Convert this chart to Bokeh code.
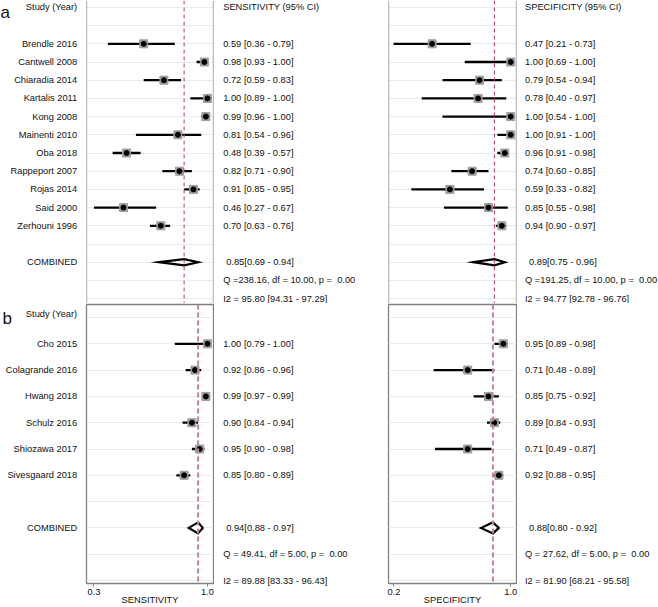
from bokeh.plotting import figure
from bokeh.models import Range1d, Span, FixedTicker, PrintfTickFormatter, ColumnDataSource, Grid, LinearAxis
from bokeh.layouts import row, column
from bokeh.core.properties import value
from bokeh.embed import file_html
from bokeh.resources import INLINE

FONT = "Liberation Sans"

# ---------------- data: panel a ----------------
studies_a = ["Brendle 2016", "Cantwell 2008", "Chiaradia 2014", "Kartalis 2011", "Kong 2008",
             "Mainenti 2010", "Oba 2018", "Rappeport 2007", "Rojas 2014", "Said 2000", "Zerhouni 1996"]
sens_a = [0.59, 0.98, 0.72, 1.00, 0.99, 0.81, 0.48, 0.82, 0.91, 0.46, 0.70]
sens_lo_a = [0.36, 0.93, 0.59, 0.89, 0.96, 0.54, 0.39, 0.71, 0.85, 0.27, 0.63]
sens_hi_a = [0.79, 1.00, 0.83, 1.00, 1.00, 0.96, 0.57, 0.90, 0.95, 0.67, 0.76]
spec_a = [0.47, 1.00, 0.79, 0.78, 1.00, 1.00, 0.96, 0.74, 0.59, 0.85, 0.94]
spec_lo_a = [0.21, 0.69, 0.54, 0.40, 0.54, 0.91, 0.91, 0.60, 0.33, 0.55, 0.90]
spec_hi_a = [0.73, 1.00, 0.94, 0.97, 1.00, 1.00, 0.98, 0.85, 0.82, 0.98, 0.97]
pooled_sens_a = [0.85, 0.69, 0.94]
pooled_spec_a = [0.89, 0.75, 0.96]
het_sens_a = [238.16, 10.00, 0.00, 95.80, 94.31, 97.29]   # Q, df, p, I2, I2 lo, I2 hi
het_spec_a = [191.25, 10.00, 0.00, 94.77, 92.78, 96.76]

# ---------------- data: panel b ----------------
studies_b = ["Cho 2015", "Colagrande 2016", "Hwang 2018", "Schulz 2016", "Shiozawa 2017", "Sivesgaard 2018"]
sens_b = [1.00, 0.92, 0.99, 0.90, 0.95, 0.85]
sens_lo_b = [0.79, 0.86, 0.97, 0.84, 0.90, 0.80]
sens_hi_b = [1.00, 0.96, 0.99, 0.94, 0.98, 0.89]
spec_b = [0.95, 0.71, 0.85, 0.89, 0.71, 0.92]
spec_lo_b = [0.89, 0.48, 0.75, 0.84, 0.49, 0.88]
spec_hi_b = [0.98, 0.89, 0.92, 0.93, 0.87, 0.95]
pooled_sens_b = [0.94, 0.88, 0.97]
pooled_spec_b = [0.88, 0.80, 0.92]
het_sens_b = [49.41, 5.00, 0.00, 89.88, 83.33, 96.43]
het_spec_b = [27.62, 5.00, 0.00, 81.90, 68.21, 95.58]

# ---------------- layout constants (pixels) ----------------
W0, W1, W2, W3, W4 = 85, 129, 173, 130, 141
HA, HB = 303, 304
ROW0_A, STEP_A = 43.3, 18.2
ROW0_B, STEP_B = 40.3, 26.3
FB_TOP, FB_BOT = 1, 280          # panel b plot frame (inside its figure)
SENS_RANGE = (0.222, 1.039)
SPEC_RANGE = (0.176, 1.039)
FS = "9.3px"
BOX = "#7f7f7f"
GRID = "#e6ecec"


def yrange(top, bottom, row0, step):
    return Range1d(start=(bottom - row0) / step, end=(top - row0) / step)


def text_fig(width, height, row0, step):
    p = figure(width=width, height=height, x_range=Range1d(0, width),
               y_range=yrange(0, height, row0, step), output_backend="svg",
               toolbar_location=None, x_axis_type=None, y_axis_type=None, min_border=0)
    p.frame_align = False
    p.outline_line_color = None
    return p


def add_text(p, x, y, txt, align="left", size=FS, baseline="middle"):
    src = ColumnDataSource(dict(x=x, y=y, t=txt))
    p.text(x="x", y="y", text="t", source=src, text_font=value(FONT), text_font_size=value(size),
           text_align=align, text_baseline=baseline, text_color="#111111")


def plot_fig(width, height, xr, top, bottom, row0, step, grid_ticks):
    p = figure(width=width, height=height, x_range=Range1d(*xr), y_range=yrange(top, bottom, row0, step),
               output_backend="svg", toolbar_location=None, x_axis_type=None, y_axis_type=None,
               min_border=0, min_border_left=1, min_border_right=1,
               min_border_top=top, min_border_bottom=height - bottom)
    p.frame_align = False
    p.outline_line_color = None
    p.add_layout(Grid(dimension=1, ticker=FixedTicker(ticks=grid_ticks), grid_line_color=GRID, grid_line_width=1))
    return p


def forest(p, est, lo, hi, pooled, dh, dcolor, dwidth, ddash):
    n = len(est)
    src = ColumnDataSource(dict(y=list(range(n)), est=est, lo=lo, hi=hi))
    p.segment(x0="lo", y0="y", x1="hi", y1="y", source=src, line_color="black", line_width=2.3)
    p.scatter(x="est", y="y", source=src, marker="square", size=8, fill_color="#9c9c9c", line_color="#9c9c9c")
    p.scatter(x="est", y="y", source=src, marker="circle", size=5, fill_color="black", line_color="black")
    yc = n + 1
    p.patch([pooled[1], pooled[0], pooled[2], pooled[0]], [yc, yc - dh, yc, yc + dh],
            fill_color="white", line_color="black", line_width=2.2, line_join="miter")
    p.add_layout(Span(location=pooled[0], dimension="height", line_color=dcolor,
                      line_width=dwidth, line_dash=ddash))


def ci_text(est, lo, hi):
    return [f"{e:.2f} [{l:.2f} - {h:.2f}]" for e, l, h in zip(est, lo, hi)]


def pooled_text(pl):
    return [f"{pl[0]:.2f}[{pl[1]:.2f} - {pl[2]:.2f}]"]


def het_text(h):
    return [f"Q ={h[0]:6.2f}, df = {h[1]:.2f}, p =\u00a0{h[2]:5.2f}",
            f"I2 = {h[3]:.2f} [{h[4]:.2f} - {h[5]:.2f}]"]


# ================= panel a =================
na = len(studies_a)
a0 = text_fig(W0, HA, ROW0_A, STEP_A)
add_text(a0, [0], [-1.74], ["a"], size="17px", baseline="alphabetic")
add_text(a0, [76.7] * (na + 2), [-2] + list(range(na)) + [na + 1],
         ["Study (Year)"] + studies_a + ["COMBINED"], align="right")

a1 = plot_fig(W1, HA, SENS_RANGE, 0, HA, ROW0_A, STEP_A, list(range(-2, na + 4)))
forest(a1, sens_a, sens_lo_a, sens_hi_a, pooled_sens_a, 0.17, "#c23b5f", 1, "4 3")
for loc in SENS_RANGE:
    a1.add_layout(Span(location=loc, dimension="height", line_color=BOX, line_width=1.3))

a2 = text_fig(W2, HA, ROW0_A, STEP_A)
add_text(a2, [8.7] * (na + 3), [-2] + list(range(na)) + [na + 2, na + 3],
         ["SENSITIVITY (95% CI)"] + ci_text(sens_a, sens_lo_a, sens_hi_a) + het_text(het_sens_a))
add_text(a2, [11.7], [na + 1], pooled_text(pooled_sens_a))

a3 = plot_fig(W3, HA, SPEC_RANGE, 0, HA, ROW0_A, STEP_A, list(range(-2, na + 4)))
forest(a3, spec_a, spec_lo_a, spec_hi_a, pooled_spec_a, 0.17, "#c23b5f", 1, "4 3")
for loc in SPEC_RANGE:
    a3.add_layout(Span(location=loc, dimension="height", line_color=BOX, line_width=1.3))

a4 = text_fig(W4, HA, ROW0_A, STEP_A)
add_text(a4, [7.5] * (na + 3), [-2] + list(range(na)) + [na + 2, na + 3],
         ["SPECIFICITY (95% CI)"] + ci_text(spec_a, spec_lo_a, spec_hi_a) + het_text(het_spec_a))
add_text(a4, [11.5], [na + 1], pooled_text(pooled_spec_a))

# ================= panel b =================
nb = len(studies_b)
b0 = text_fig(W0, HB, ROW0_B, STEP_B)
add_text(b0, [2], [-0.95], ["b"], size="17px", baseline="alphabetic")
add_text(b0, [76.7] * (nb + 2), [-1.14] + list(range(nb)) + [nb + 1],
         ["Study (Year)"] + studies_b + ["COMBINED"], align="right")


def axis_fig(width, xr, est, lo, hi, pooled, label, all_lo):
    p = plot_fig(width, HB, xr, FB_TOP, FB_BOT, ROW0_B, STEP_B, list(range(-1, nb + 4)))
    p.outline_line_color = BOX
    p.outline_line_width = 1.3
    forest(p, est, lo, hi, pooled, 0.21, "#cf7f9d", 2, "5 3")
    ax = LinearAxis(ticker=FixedTicker(ticks=[min(all_lo), 1.0]),
                    formatter=PrintfTickFormatter(format="%.1f"), axis_label=label,
                    axis_line_color=None, major_tick_line_color=BOX, major_tick_out=3, major_tick_in=0,
                    minor_tick_out=0, minor_tick_in=0, major_label_standoff=2, axis_label_standoff=-3,
                    major_label_text_font=FONT, major_label_text_font_size="9.3px",
                    major_label_text_color="#111111",
                    axis_label_text_font=FONT, axis_label_text_font_size="9.3px",
                    axis_label_text_font_style="normal", axis_label_text_color="#111111")
    p.add_layout(ax, "below")
    return p


b1 = axis_fig(W1, SENS_RANGE, sens_b, sens_lo_b, sens_hi_b, pooled_sens_b, "SENSITIVITY", sens_lo_a + sens_lo_b)

b2 = text_fig(W2, HB, ROW0_B, STEP_B)
add_text(b2, [8.7] * (nb + 2), list(range(nb)) + [nb + 2, nb + 3],
         ci_text(sens_b, sens_lo_b, sens_hi_b) + het_text(het_sens_b))
add_text(b2, [11.7], [nb + 1], pooled_text(pooled_sens_b))

b3 = axis_fig(W3, SPEC_RANGE, spec_b, spec_lo_b, spec_hi_b, pooled_spec_b, "SPECIFICITY", spec_lo_a + spec_lo_b)

b4 = text_fig(W4, HB, ROW0_B, STEP_B)
add_text(b4, [7.5] * (nb + 2), list(range(nb)) + [nb + 2, nb + 3],
         ci_text(spec_b, spec_lo_b, spec_hi_b) + het_text(het_spec_b))
add_text(b4, [11.5], [nb + 1], pooled_text(pooled_spec_b))

layout = column(row(a0, a1, a2, a3, a4), row(b0, b1, b2, b3, b4))

open("out.html", "w").write(file_html(layout, INLINE, title="Forest plot"))
